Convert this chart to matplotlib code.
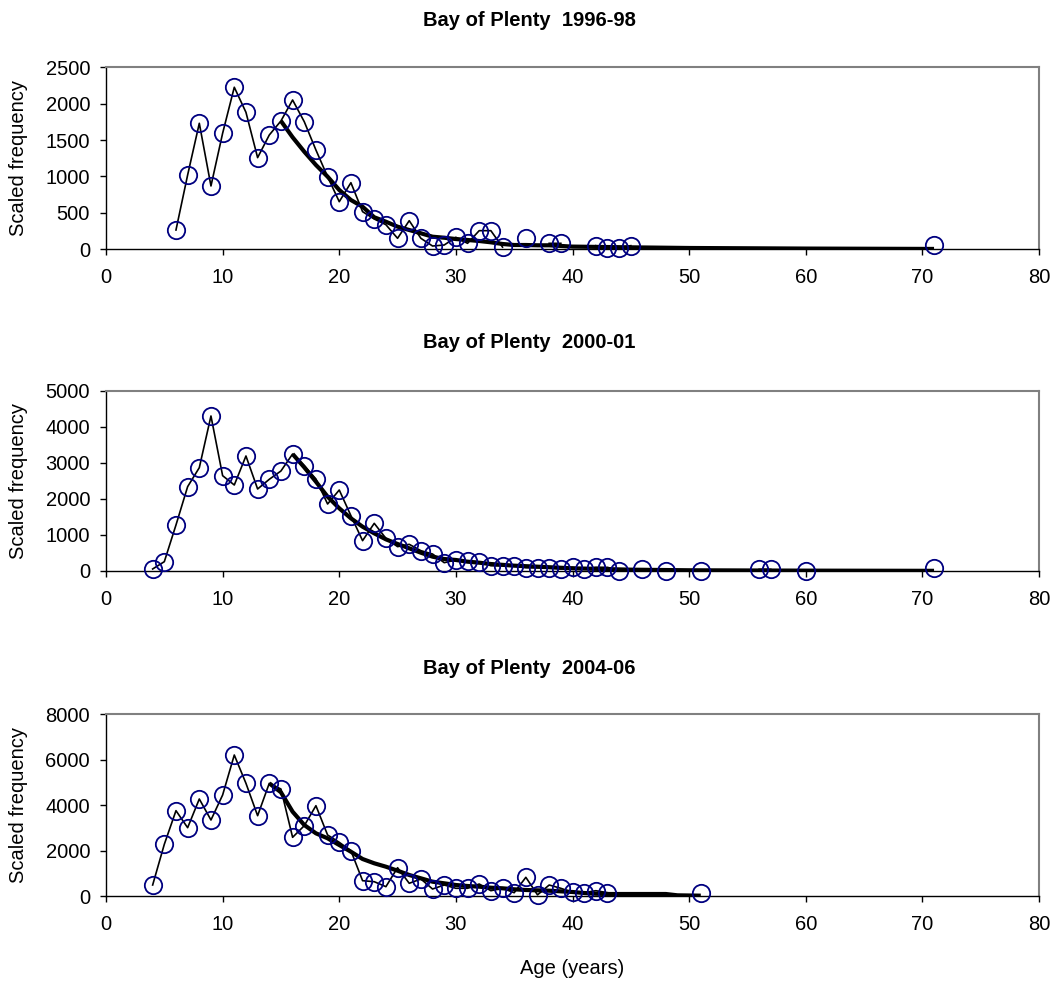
import numpy as np
import matplotlib
matplotlib.use("Agg")
import matplotlib.pyplot as plt

plt.rcParams['font.family'] = ['Liberation Sans', 'DejaVu Sans']

# ---------------- data ----------------
titles = ["Bay of Plenty  1996-98", "Bay of Plenty  2000-01", "Bay of Plenty  2004-06"]

# Panel 1 observed (age -> scaled frequency)
ages1 = [6, 7, 8, 9, 10, 11, 12, 13, 14, 15, 16, 17, 18, 19, 20, 21, 22, 23, 24, 25,
         26, 27, 28, 29, 30, 31, 32, 33, 34, 36, 38, 39, 42, 43, 44, 45, 71]
obs1 = [265, 1021, 1731, 870, 1594, 2226, 1882, 1259, 1570, 1763, 2051, 1753, 1364, 998, 654,
        915, 517, 416, 338, 151, 393, 151, 45, 59, 165, 82, 256, 256, 30, 151, 82, 82,
        50, 22, 22, 50, 55]
fit_ages1 = [15, 16, 17, 18, 19, 20, 21, 22, 23, 24, 25, 26, 27, 28, 29, 30, 31, 32, 33, 34,
             35, 36, 37, 38, 40, 45, 50, 60, 71]
fit1 = [1763, 1539, 1341, 1158, 998, 815, 677, 585, 440, 379, 311, 265, 220, 173, 159, 141,
        128, 114, 96, 73, 59, 59, 55, 55, 37, 27, 18, 10, 5]

# Panel 2
ages2 = [4, 5, 6, 7, 8, 9, 10, 11, 12, 13, 14, 15, 16, 17, 18, 19, 20, 21, 22, 23, 24, 25,
         26, 27, 28, 29, 30, 31, 32, 33, 34, 35, 36, 37, 38, 39, 40, 41, 42, 43, 44, 46,
         48, 51, 56, 57, 60, 71]
obs2 = [56, 259, 1278, 2343, 2870, 4306, 2648, 2389, 3195, 2278, 2547, 2778, 3250, 2926,
        2556, 1861, 2250, 1537, 843, 1324, 907, 676, 741, 565, 472, 231, 306, 278, 250,
        147, 147, 147, 92, 92, 92, 56, 102, 56, 102, 102, 10, 46, 10, 10, 46, 46, 10, 75]
fit_ages2 = [16, 17, 18, 19, 20, 21, 22, 23, 24, 25, 26, 27, 28, 29, 30, 31, 32, 33, 35, 37,
             40, 45, 50, 60, 71]
fit2 = [3250, 2880, 2481, 2065, 1742, 1463, 1231, 1046, 880, 750, 630, 508, 398, 333, 306,
        259, 231, 194, 148, 120, 75, 37, 20, 10, 5]

# Panel 3
ages3 = [4, 5, 6, 7, 8, 9, 10, 11, 12, 13, 14, 15, 16, 17, 18, 19, 20, 21, 22, 23, 24, 25,
         26, 27, 28, 29, 30, 31, 32, 33, 34, 35, 36, 37, 38, 39, 40, 41, 42, 43, 51]
obs3 = [484, 2276, 3757, 3008, 4271, 3346, 4447, 6208, 4962, 3536, 4962, 4711, 2584, 3095,
        3976, 2686, 2364, 1995, 674, 630, 410, 1246, 559, 749, 308, 484, 339, 339, 528,
        233, 339, 145, 823, 50, 484, 339, 163, 147, 233, 147, 147]
fit_ages3 = [14, 15, 16, 17, 18, 19, 20, 21, 22, 23, 24, 25, 26, 27, 28, 29, 30, 31, 32, 33,
             34, 35, 36, 37, 38, 39, 40, 41, 42, 43, 48, 49, 51]
fit3 = [4962, 4566, 3712, 3126, 2760, 2540, 2245, 1950, 1629, 1440, 1290, 1114, 925, 779,
        630, 559, 484, 440, 410, 365, 339, 295, 264, 250, 233, 205, 176, 132, 100, 88, 88,
        30, 15]

yticks_list = [[0, 500, 1000, 1500, 2000, 2500],
               [0, 1000, 2000, 3000, 4000, 5000],
               [0, 2000, 4000, 6000, 8000]]
xticks = [0, 10, 20, 30, 40, 50, 60, 70, 80]

panels = [(ages1, obs1, fit_ages1, fit1),
          (ages2, obs2, fit_ages2, fit2),
          (ages3, obs3, fit_ages3, fit3)]

# ---------------- layout ----------------
W, H = 1058, 982
fig = plt.figure(figsize=(W / 100, H / 100), dpi=100)

# (top_px, bottom_px) of each plot area
boxes = [(67.3, 249.3), (391, 571), (714.3, 896)]
title_y = [20, 343, 668]
left_px, right_px = 106, 1039
FS = 14.5
navy = "#000080"

for i, (ages, obs, fa, fv) in enumerate(panels):
    top, bot = boxes[i]
    ax = fig.add_axes([left_px / W, 1 - bot / H, (right_px - left_px) / W, (bot - top) / H])

    # thin observed line with gaps at missing ages
    full = np.arange(min(ages), max(ages) + 1)
    lookup = dict(zip(ages, obs))
    yline = np.array([lookup.get(a, np.nan) for a in full], dtype=float)
    ax.plot(full, yline, color="black", lw=1.2, zorder=2)
    # fitted thick line
    ax.plot(fa, fv, color="black", lw=3.0, zorder=3, solid_capstyle="butt")
    # observed circles
    ax.plot(ages, obs, linestyle="none", marker="o", markersize=12.5,
            markerfacecolor="none", markeredgecolor=navy, markeredgewidth=1.3,
            zorder=4, clip_on=False)

    yt = yticks_list[i]
    ax.set_xlim(0, 80)
    ax.set_ylim(0, yt[-1])
    ax.set_xticks(xticks)
    ax.set_yticks(yt)
    ax.set_xticklabels([str(v) for v in xticks], fontsize=FS)
    ax.set_yticklabels([str(v) for v in yt], fontsize=FS)
    ax.tick_params(axis="both", direction="out", length=4.5, width=1.0, color="black")
    ax.tick_params(axis="x", pad=9)
    ax.tick_params(axis="y", pad=7)
    for s in ("top", "right"):
        ax.spines[s].set_color("#808080")
        ax.spines[s].set_linewidth(1.5)
    for s in ("left", "bottom"):
        ax.spines[s].set_color("black")
        ax.spines[s].set_linewidth(1.0)

    fig.text(529 / W, 1 - title_y[i] / H, titles[i], ha="center", va="center",
             fontsize=FS, fontweight="bold")
    fig.text(19 / W, 1 - (top + bot) / 2 / H, "Scaled frequency", rotation=90,
             ha="center", va="center", fontsize=FS)

fig.text((left_px + right_px) / 2 / W, 1 - 968 / H, "Age (years)", ha="center",
         va="center", fontsize=FS)

fig.savefig("out.png", dpi=100)
